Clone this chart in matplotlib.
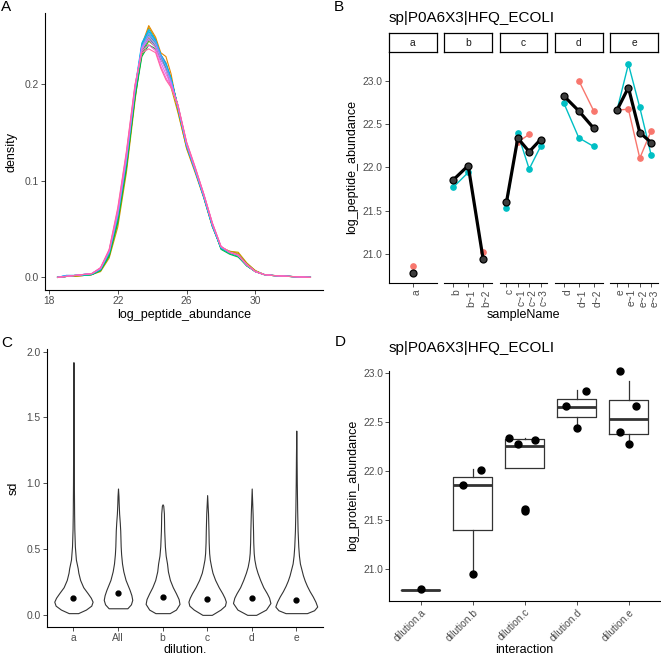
import numpy as np
import matplotlib.pyplot as plt
import matplotlib.transforms as mtrans

plt.rcParams['font.family'] = ['Liberation Sans', 'DejaVu Sans']

W, H = 661, 656
nan = np.nan

# ---- panel A: peptide abundance densities, one curve per sample
samples = ['a', 'b', 'b~1', 'b~2', 'c', 'c~1', 'c~2', 'c~3',
           'd', 'd~1', 'd~2', 'e', 'e~1', 'e~2', 'e~3']
sample_colors = ['#F8766D', '#E58700', '#C99800', '#A3A500', '#6BB100', '#00BA38',
                 '#00BF7D', '#00C0AF', '#00BCD8', '#00B0F6', '#619CFF', '#B983FF',
                 '#E76BF3', '#FD61D1', '#FF67A4']
dens_x = [18.5, 19.0, 19.5, 20.0, 20.5, 21.0, 21.5, 22.0, 22.5, 23.0, 23.4, 23.8, 24.2, 24.5,
          24.8, 25.1, 25.5, 26.0, 26.5, 27.0, 27.5, 28.0, 28.5, 29.0, 29.5, 30.0, 30.5, 31.0,
          32.0, 33.2]
density = {
    'a':   [0.000, 0.001, 0.002, 0.002, 0.003, 0.008, 0.024, 0.060, 0.116, 0.188, 0.236, 0.252, 0.243, 0.230, 0.222, 0.206, 0.176, 0.136, 0.110, 0.083, 0.053, 0.031, 0.026, 0.023, 0.013, 0.006, 0.003, 0.002, 0.001, 0.000],
    'b':   [0.000, 0.001, 0.001, 0.002, 0.003, 0.007, 0.022, 0.056, 0.112, 0.186, 0.240, 0.260, 0.248, 0.232, 0.228, 0.210, 0.172, 0.133, 0.108, 0.082, 0.052, 0.031, 0.027, 0.025, 0.014, 0.007, 0.003, 0.002, 0.001, 0.000],
    'b~1': [0.000, 0.001, 0.001, 0.002, 0.003, 0.006, 0.020, 0.052, 0.108, 0.182, 0.236, 0.258, 0.246, 0.228, 0.215, 0.196, 0.170, 0.134, 0.110, 0.083, 0.053, 0.031, 0.027, 0.026, 0.015, 0.007, 0.003, 0.002, 0.001, 0.000],
    'b~2': [0.000, 0.001, 0.002, 0.002, 0.003, 0.008, 0.023, 0.058, 0.114, 0.186, 0.232, 0.248, 0.240, 0.228, 0.220, 0.204, 0.174, 0.136, 0.111, 0.084, 0.054, 0.031, 0.026, 0.024, 0.014, 0.006, 0.003, 0.002, 0.001, 0.000],
    'c':   [0.000, 0.001, 0.002, 0.002, 0.003, 0.008, 0.024, 0.060, 0.116, 0.188, 0.230, 0.244, 0.238, 0.226, 0.218, 0.203, 0.175, 0.137, 0.111, 0.084, 0.054, 0.030, 0.025, 0.022, 0.012, 0.006, 0.003, 0.002, 0.001, 0.000],
    'c~1': [0.000, 0.001, 0.002, 0.002, 0.003, 0.007, 0.022, 0.057, 0.113, 0.185, 0.228, 0.240, 0.236, 0.225, 0.217, 0.204, 0.177, 0.138, 0.112, 0.085, 0.055, 0.029, 0.024, 0.021, 0.012, 0.006, 0.003, 0.002, 0.001, 0.000],
    'c~2': [0.000, 0.001, 0.002, 0.002, 0.003, 0.008, 0.024, 0.061, 0.118, 0.190, 0.232, 0.246, 0.240, 0.228, 0.219, 0.205, 0.176, 0.137, 0.111, 0.084, 0.054, 0.030, 0.025, 0.022, 0.012, 0.006, 0.003, 0.002, 0.001, 0.000],
    'c~3': [0.000, 0.001, 0.002, 0.002, 0.003, 0.008, 0.025, 0.063, 0.120, 0.192, 0.236, 0.250, 0.242, 0.229, 0.220, 0.205, 0.176, 0.137, 0.111, 0.083, 0.053, 0.030, 0.025, 0.022, 0.012, 0.006, 0.003, 0.002, 0.001, 0.000],
    'd':   [0.000, 0.002, 0.002, 0.003, 0.004, 0.009, 0.026, 0.065, 0.122, 0.194, 0.240, 0.254, 0.244, 0.230, 0.221, 0.205, 0.175, 0.136, 0.110, 0.083, 0.053, 0.031, 0.026, 0.023, 0.013, 0.006, 0.003, 0.002, 0.001, 0.000],
    'd~1': [0.000, 0.002, 0.002, 0.003, 0.004, 0.009, 0.027, 0.066, 0.124, 0.196, 0.242, 0.256, 0.245, 0.230, 0.220, 0.204, 0.175, 0.136, 0.110, 0.083, 0.053, 0.031, 0.026, 0.023, 0.013, 0.006, 0.003, 0.002, 0.001, 0.000],
    'd~2': [0.000, 0.002, 0.002, 0.003, 0.004, 0.009, 0.026, 0.064, 0.121, 0.193, 0.238, 0.252, 0.243, 0.229, 0.218, 0.203, 0.176, 0.137, 0.111, 0.084, 0.054, 0.031, 0.026, 0.023, 0.013, 0.006, 0.003, 0.002, 0.001, 0.000],
    'e':   [0.000, 0.001, 0.002, 0.003, 0.004, 0.009, 0.027, 0.066, 0.123, 0.194, 0.237, 0.249, 0.240, 0.226, 0.214, 0.201, 0.176, 0.138, 0.112, 0.085, 0.055, 0.032, 0.026, 0.023, 0.013, 0.006, 0.003, 0.002, 0.001, 0.000],
    'e~1': [0.000, 0.001, 0.002, 0.003, 0.004, 0.010, 0.028, 0.068, 0.126, 0.196, 0.236, 0.246, 0.237, 0.222, 0.210, 0.199, 0.177, 0.139, 0.113, 0.086, 0.056, 0.032, 0.026, 0.023, 0.013, 0.006, 0.003, 0.002, 0.001, 0.000],
    'e~2': [0.000, 0.001, 0.002, 0.003, 0.004, 0.010, 0.028, 0.070, 0.128, 0.198, 0.234, 0.240, 0.234, 0.218, 0.206, 0.197, 0.178, 0.139, 0.113, 0.086, 0.056, 0.032, 0.026, 0.023, 0.013, 0.006, 0.003, 0.002, 0.001, 0.000],
    'e~3': [0.000, 0.001, 0.002, 0.003, 0.004, 0.010, 0.029, 0.072, 0.130, 0.199, 0.232, 0.236, 0.232, 0.216, 0.204, 0.196, 0.178, 0.140, 0.114, 0.086, 0.056, 0.032, 0.026, 0.023, 0.013, 0.006, 0.003, 0.002, 0.001, 0.000],
}

# ---- panel B / D: one protein, two peptides, per dilution facet
protein_name = 'sp|P0A6X3|HFQ_ECOLI'
dilutions = ['a', 'b', 'c', 'd', 'e']
facet_samples = [['a'], ['b', 'b~1', 'b~2'], ['c', 'c~1', 'c~2', 'c~3'],
                 ['d', 'd~1', 'd~2'], ['e', 'e~1', 'e~2', 'e~3']]
peptide1 = [[20.865], [nan, nan, 21.02], [nan, 22.29, 22.38, nan],
            [nan, 23.00, 22.65], [22.66, 22.67, 22.105, 22.42]]
peptide2 = [[nan], [21.77, 21.94, nan], [21.53, 22.39, 21.98, 22.24],
            [22.74, 22.34, 22.24], [22.66, 23.19, 22.69, 22.14]]
protein = [[20.785], [21.854, 22.019, 20.94], [21.595, 22.336, 22.18, 22.32],
           [22.823, 22.65, 22.45], [22.66, 22.92, 22.40, 22.285]]
# jitter of the points in panel D, as seen in the picture
jitter_dx = [[0.0], [-0.19, 0.17, 0.0], [0.0, -0.31, -0.13, 0.19],
             [0.18, -0.2, 0.0], [0.13, -0.17, -0.17, 0.0]]
jitter_dy = [[0.01], [0.0, -0.01, 0.01], [0.015, -0.004, 0.095, -0.005],
             [-0.013, 0.01, -0.01], [0.0, 0.10, 0.0, -0.015]]

# ---- panel C: sd violins
violin_groups = ['a', 'All', 'b', 'c', 'd', 'e']
violin_y = {
    'a':   [0.013, 0.04, 0.07, 0.10, 0.13, 0.164, 0.21, 0.265, 0.32, 0.355, 0.42, 0.52, 0.65, 0.77, 1.0, 1.3, 1.6, 1.92],
    'All': [0.05, 0.08, 0.114, 0.15, 0.19, 0.265, 0.33, 0.39, 0.46, 0.52, 0.58, 0.64, 0.70, 0.77, 0.85, 0.90, 0.96],
    'b':   [0.013, 0.04, 0.083, 0.12, 0.164, 0.21, 0.265, 0.33, 0.39, 0.45, 0.52, 0.64, 0.77, 0.83, 0.84],
    'c':   [0.0, 0.04, 0.07, 0.10, 0.13, 0.164, 0.21, 0.265, 0.32, 0.366, 0.42, 0.47, 0.55, 0.64, 0.77, 0.91],
    'd':   [0.0, 0.04, 0.09, 0.13, 0.164, 0.21, 0.265, 0.32, 0.366, 0.42, 0.47, 0.55, 0.64, 0.77, 0.96],
    'e':   [0.013, 0.035, 0.063, 0.10, 0.14, 0.18, 0.22, 0.26, 0.30, 0.39, 0.45, 0.52, 0.64, 0.8, 1.0, 1.2, 1.40],
}
violin_w = {
    'a':   [0.105, 0.28, 0.40, 0.43, 0.39, 0.32, 0.22, 0.15, 0.11, 0.095, 0.055, 0.032, 0.02, 0.015, 0.01, 0.007, 0.005, 0.0],
    'All': [0.21, 0.29, 0.32, 0.30, 0.26, 0.17, 0.12, 0.09, 0.07, 0.06, 0.055, 0.05, 0.04, 0.025, 0.015, 0.011, 0.0],
    'b':   [0.16, 0.30, 0.38, 0.36, 0.30, 0.23, 0.165, 0.12, 0.10, 0.07, 0.052, 0.037, 0.03, 0.015, 0.0],
    'c':   [0.105, 0.30, 0.40, 0.42, 0.39, 0.34, 0.26, 0.18, 0.12, 0.09, 0.06, 0.045, 0.035, 0.03, 0.02, 0.0],
    'd':   [0.10, 0.32, 0.42, 0.39, 0.34, 0.26, 0.19, 0.13, 0.09, 0.06, 0.045, 0.035, 0.03, 0.02, 0.0],
    'e':   [0.24, 0.40, 0.47, 0.43, 0.37, 0.30, 0.24, 0.19, 0.15, 0.082, 0.06, 0.045, 0.03, 0.02, 0.012, 0.007, 0.0],
}
violin_median = [0.129, 0.169, 0.134, 0.121, 0.126, 0.114]

TICK = '#4D4D4D'
fig = plt.figure(figsize=(W / 100, H / 100), dpi=100)


def add_ax(l, t, r, b):
    return fig.add_axes([l / W, 1 - b / H, (r - l) / W, (b - t) / H])


def classic(ax, left=True):
    ax.spines['top'].set_visible(False)
    ax.spines['right'].set_visible(False)
    ax.spines['left'].set_visible(left)
    for s in ['left', 'bottom']:
        ax.spines[s].set_linewidth(0.8)
    ax.tick_params(length=3, width=0.6, color='#333333', labelsize=7.4,
                   labelcolor=TICK, pad=1.5)
    if not left:
        ax.tick_params(axis='y', left=False, labelleft=False)


def tag(x, y, s):
    fig.text(x / W, 1 - y / H, s, fontsize=11, ha='left', va='center')


# A
axA = add_ax(45, 13, 323, 290)
for s, col in zip(samples, sample_colors):
    axA.plot(dens_x, density[s], color=col, lw=0.8, solid_joinstyle='round')
axA.set_xlim(17.77, 33.93)
axA.set_ylim(-0.013, 0.273)
axA.set_xticks([18, 22, 26, 30])
axA.set_yticks([0.0, 0.1, 0.2])
axA.set_yticklabels(['0.0', '0.1', '0.2'])
classic(axA)
axA.set_xlabel('log_peptide_abundance', fontsize=9, labelpad=2)
axA.set_ylabel('density', fontsize=9, labelpad=5)
tag(1, 7, 'A')

# B
left0, pw, gap = 389, 47.8, 7.5
for i, d in enumerate(dilutions):
    l = left0 + i * (pw + gap)
    ax = add_ax(l, 52, l + pw, 283)
    xs = np.arange(len(facet_samples[i]))
    ax.plot(xs, peptide1[i], color='#F8766D', lw=1, marker='o', ms=3.8, zorder=2)
    ax.plot(xs, peptide2[i], color='#00BFC4', lw=1, marker='o', ms=3.8, zorder=2)
    ax.plot(xs, protein[i], color='black', lw=2.3, zorder=3)
    ax.plot(xs, protein[i], ls='none', marker='o', ms=5, mfc='#3c3c3c', mec='black',
            mew=0.9, zorder=4)
    ax.set_xlim(-0.6, len(xs) - 0.4)
    ax.set_ylim(20.665, 23.33)
    ax.set_yticks([21.0, 21.5, 22.0, 22.5, 23.0])
    ax.set_xticks(xs)
    ax.set_xticklabels(facet_samples[i], rotation=90, ha='center', va='top')
    classic(ax, left=(i == 0))
    off = mtrans.ScaledTranslation(3.5 / 100, 0, fig.dpi_scale_trans)
    for lab in ax.get_xticklabels():
        lab.set_transform(lab.get_transform() + off)
    if i == 0:
        ax.set_ylabel('log_peptide_abundance', fontsize=9, labelpad=3)
    st = add_ax(l, 33, l + pw, 52)
    st.set_xticks([])
    st.set_yticks([])
    for sp in st.spines.values():
        sp.set_linewidth(0.9)
    st.text(0.5, 0.5, d, ha='center', va='center', fontsize=7.4, color='#1A1A1A',
            transform=st.transAxes)
fig.text((389 + 658) / 2 / W, 1 - 315 / H, 'sampleName', fontsize=9, ha='center', va='center')
fig.text(389 / W, 1 - 18 / H, protein_name, fontsize=11, ha='left', va='center')
tag(334, 7, 'B')

# C
axC = add_ax(46.7, 349, 323, 626.7)
for i, g in enumerate(violin_groups):
    y = np.array(violin_y[g])
    w = np.array(violin_w[g])
    axC.fill_betweenx(y, i - w, i + w, facecolor='white', edgecolor='#333333', lw=0.8)
axC.plot(range(len(violin_groups)), violin_median, ls='none', marker='o', ms=3.5, color='black')
axC.set_xlim(-0.6, len(violin_groups) - 0.4)
axC.set_ylim(-0.09, 2.02)
axC.set_xticks(range(len(violin_groups)))
axC.set_xticklabels(violin_groups)
axC.set_yticks([0.0, 0.5, 1.0, 1.5, 2.0])
axC.set_yticklabels(['0.0', '0.5', '1.0', '1.5', '2.0'])
classic(axC)
axC.set_xlabel('dilution.', fontsize=9, labelpad=0.5)
axC.set_ylabel('sd', fontsize=9, labelpad=5)
tag(1, 343, 'C')

# D
axD = add_ax(389.3, 370.7, 660, 600.7)
pos = np.arange(len(dilutions))
axD.boxplot(protein, positions=pos, widths=0.75, whis=1.5, showcaps=False,
            boxprops=dict(color='#333333', lw=0.9),
            whiskerprops=dict(color='#333333', lw=0.9),
            medianprops=dict(color='#333333', lw=2),
            flierprops=dict(marker='o', ms=5, mfc='black', mec='black'))
for i in range(len(dilutions)):
    px = pos[i] + np.array(jitter_dx[i])
    py = np.array(protein[i]) + np.array(jitter_dy[i])
    axD.plot(px, py, ls='none', marker='o', ms=5, color='black', zorder=4, clip_on=False)
axD.set_xlim(-0.6, len(dilutions) - 0.4)
axD.set_ylim(20.68, 23.02)
axD.set_yticks([21.0, 21.5, 22.0, 22.5, 23.0])
axD.set_xticks(pos)
axD.set_xticklabels(['dilution.' + d for d in dilutions], rotation=45, ha='right',
                    rotation_mode='anchor')
classic(axD)
axD.set_xlabel('interaction', fontsize=9, labelpad=1)
axD.set_ylabel('log_protein_abundance', fontsize=9, labelpad=3)
fig.text(389 / W, 1 - 348 / H, protein_name, fontsize=11, ha='left', va='center')
tag(335, 342, 'D')

fig.savefig('out.png', dpi=100)
